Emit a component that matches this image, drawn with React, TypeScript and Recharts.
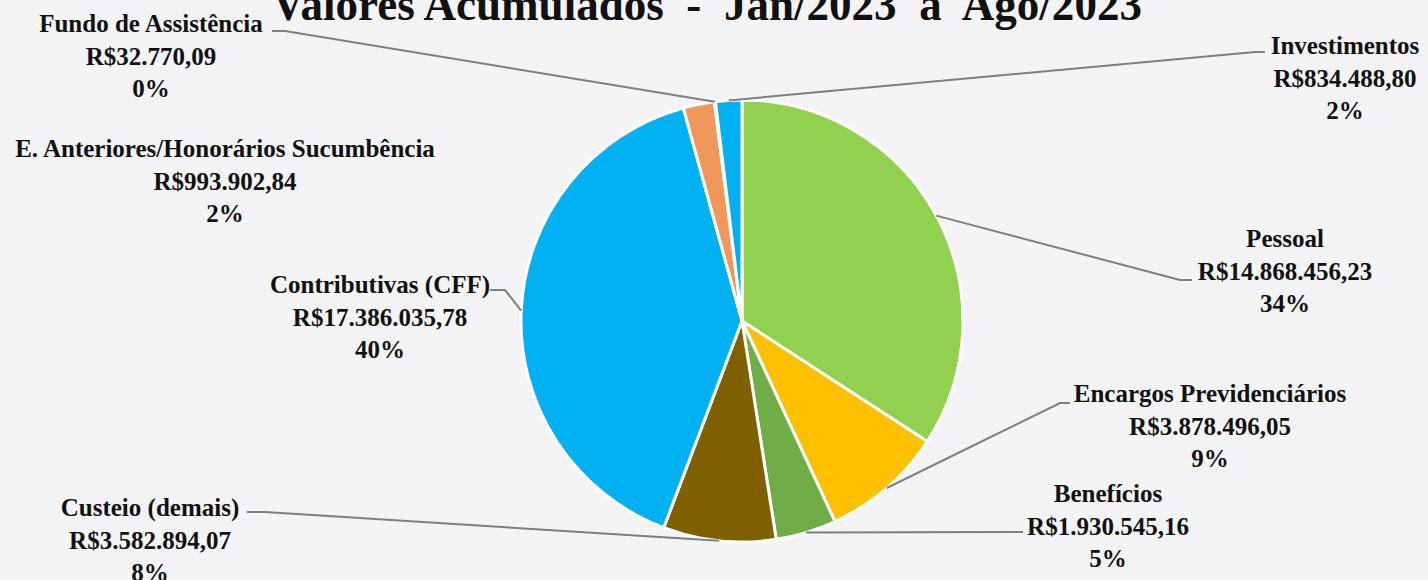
import React from 'react';
import { PieChart, Pie, Cell } from 'recharts';

// data, in the order the slices run clockwise from 12 o'clock
const categories = [
  'Pessoal',
  'Encargos Previdenciários',
  'Benefícios',
  'Custeio (demais)',
  'Contributivas (CFF)',
  'E. Anteriores/Honorários Sucumbência',
  'Fundo de Assistência',
  'Investimentos',
];
const values = [14868456.23, 3878496.05, 1930545.16, 3582894.07, 17386035.78, 993902.84, 32770.09, 834488.8];
const valueLabels = [
  'R$14.868.456,23',
  'R$3.878.496,05',
  'R$1.930.545,16',
  'R$3.582.894,07',
  'R$17.386.035,78',
  'R$993.902,84',
  'R$32.770,09',
  'R$834.488,80',
];
const percentLabels = ['34%', '9%', '5%', '8%', '40%', '2%', '0%', '2%'];
const colors = ['#92D050', '#FFC000', '#70AD47', '#7F6000', '#00B0F0', '#F0985A', '#A5A5A5', '#00B0F0'];

const title = 'Valores Acumulados  -  Jan/2023  à  Ago/2023';

// where each label sits (center x, first line center y) and how its leader line bends
const labelLayout: { x: number; y: number; knee?: [number, number]; end?: [number, number] }[] = [
  { x: 1285, y: 238, knee: [1180, 280], end: [1192, 280] },
  { x: 1210, y: 393, knee: [1060, 403], end: [1070, 403] },
  { x: 1108, y: 493, knee: [1015, 532], end: [1023, 532] },
  { x: 150, y: 507, knee: [265, 512], end: [247, 512] },
  { x: 380, y: 284, knee: [505, 290], end: [490, 290] },
  { x: 225, y: 148 },
  { x: 151, y: 23, knee: [285, 31], end: [272, 31] },
  { x: 1345, y: 45, knee: [1255, 52], end: [1265, 52] },
];

const font = '"Liberation Serif", "Times New Roman", serif';
const RAD = Math.PI / 180;

const renderLabel = (props: any) => {
  const { cx, cy, midAngle, outerRadius, index } = props;
  const lay = labelLayout[index];
  const ex = cx + outerRadius * Math.cos(-midAngle * RAD);
  const ey = cy + outerRadius * Math.sin(-midAngle * RAD);
  const lines = [categories[index], valueLabels[index], percentLabels[index]];
  return (
    <g key={`lbl-${index}`}>
      {lay.knee && lay.end && (
        <polyline
          points={`${ex},${ey} ${lay.knee[0]},${lay.knee[1]} ${lay.end[0]},${lay.end[1]}`}
          fill="none"
          stroke="#7F7F7F"
          strokeWidth={2}
        />
      )}
      <text
        textAnchor="middle"
        dominantBaseline="central"
        fontFamily={font}
        fontWeight="bold"
        fontSize={25}
        fill="#111"
      >
        {lines.map((t, i) => (
          <tspan key={i} x={lay.x} y={lay.y + i * 32.5}>
            {t}
          </tspan>
        ))}
      </text>
    </g>
  );
};

const data = categories.map((name, i) => ({ name, value: values[i] }));

export default function App() {
  return (
    <div style={{ position: 'fixed', left: 0, top: 0, width: 1428, height: 580, background: '#F4F4F6', overflow: 'hidden' }}>
      <PieChart width={1428} height={580} margin={{ top: 0, right: 0, bottom: 0, left: 0 }}>
        <Pie
          data={data}
          dataKey="value"
          nameKey="name"
          cx={742}
          cy={321}
          outerRadius={221}
          startAngle={90}
          endAngle={-270}
          stroke="#FFFFFF"
          strokeWidth={3}
          label={renderLabel}
          labelLine={false}
          isAnimationActive={false}
        >
          {data.map((d, i) => (
            <Cell key={d.name} fill={colors[i]} />
          ))}
        </Pie>
      </PieChart>
      <svg width={1428} height={580} style={{ position: 'absolute', left: 0, top: 0, pointerEvents: 'none' }}>
        <text
          x={272}
          y={20}
          fontFamily={font}
          fontWeight="bold"
          fontSize={46}
          fill="#111"
          textLength={870}
          lengthAdjust="spacingAndGlyphs"
          style={{ whiteSpace: 'pre' }}
        >
          {title}
        </text>
      </svg>
    </div>
  );
}
